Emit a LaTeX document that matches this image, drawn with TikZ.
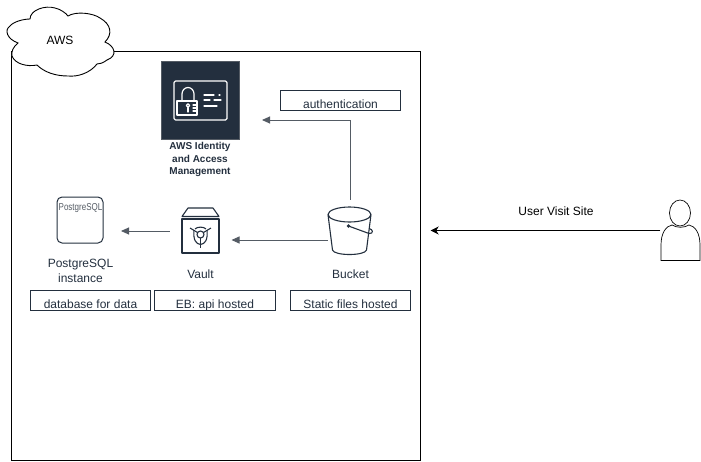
\documentclass[tikz,border=0pt]{standalone}
\usepackage{fontspec}
\usepackage{xcolor}
\setmainfont{Liberation Sans}
\usetikzlibrary{calc,arrows.meta}
\definecolor{ink}{HTML}{232F3E}
\definecolor{flow}{HTML}{545B64}
\tikzset{
  frame/.style={draw=black, line width=0.9pt},
  tag/.style={draw=ink, line width=0.8pt, minimum width=120.5pt, minimum height=20pt, inner sep=0pt, text=ink, font=\fontsize{12}{14}\selectfont, text depth=0pt, text height=15.5pt},
  lab/.style={text=ink, font=\fontsize{12}{15}\selectfont, align=center, inner sep=0pt},
  iamlab/.style={text=ink, font=\fontsize{10}{12.5}\selectfont\bfseries, align=center, inner sep=0pt},
  icon/.style={draw=ink, line width=1.1pt, line join=round},
  card/.style={draw=white, line width=1.2pt, line join=round, line cap=round},
  link/.style={draw=flow, line width=0.9pt, -{Triangle[length=8pt,width=7pt]}},
  visit/.style={draw=black, line width=0.9pt, -{Stealth[length=8pt,width=8pt]}},
}
\begin{document}
\begin{tikzpicture}[x=1pt,y=-1pt]
  \useasboundingbox (0,0) rectangle (701,461);
  \draw[frame] (11,51) rectangle (420.5,460.5);

  \draw[frame, fill=white] (18,43) .. controls (7,39) and (4,30) .. (10,26)
    .. controls (13,22) and (23,19) .. (30,19)
    .. controls (30,10) and (45,5) .. (55,8)
    .. controls (60,9) and (66,13) .. (68,16)
    .. controls (76,11) and (93,13) .. (100,18)
    .. controls (111,24) and (113,34) .. (105,42)
    .. controls (115,46) and (118,56) .. (107,60)
    .. controls (103,63) and (100,64) .. (97,64)
    .. controls (90,73) and (78,77) .. (68,76)
    .. controls (55,76) and (44,72) .. (37,65)
    .. controls (27,67) and (15,64) .. (12,56)
    .. controls (11,52) and (13,47) .. (18,43) -- cycle;
  \node[lab, text=black] (aws) at (60,40) {AWS};

  % identity and access management
  \node[fill=ink, draw=flow, line width=0.5pt, minimum size=78pt, inner sep=0pt, outer sep=23pt] (iam) at (200,100) {};
  \draw[card, rounded corners=1.5pt] (174,81) rectangle (227,120);
  \draw[card] (177,101) rectangle (197,115);
  \draw[card] (182,101) -- (182,94) arc[start angle=180, end angle=0, x radius=6, y radius=-6.5] -- (194,101);
  \draw[card] (188,105.5) circle (1.8);
  \draw[card] (188,107.5) -- (188,112);
  \draw[card] (193,105) -- (196,105) (193,108) -- (196,108) (193,111) -- (196,111);
  \draw[card] (204,95) -- (214,95) (219,95) -- (220,95);
  \draw[card] (204,100) -- (210,100) (214,100) -- (221,100);
  \draw[card] (204,106) -- (217,106);
  \node[iamlab] (iamtxt) at (200,159.5) {AWS Identity\\and Access\\Management};

  % database
  \node[draw=ink, line width=1pt, rounded corners=5pt, minimum size=46pt, inner sep=0pt, outer sep=18pt] (pg) at (80,220) {};
  \node[text=flow, inner sep=0pt, font=\fontsize{10}{11}\selectfont, xscale=0.8] (pgtxt) at (80.5,208) {PostgreSQL};
  \node[lab] (pgname) at (80.5,270.5) {PostgreSQL\\instance};
  \node[tag] (pgtag) at (90.5,300.5) {database for data};

  % vault
  \node[icon, minimum width=37pt, minimum height=34pt, inner sep=0pt, outer sep=12.5pt] (vault) at (200.5,236) {};
  \draw[icon] (182,216.5) -- (188,208) -- (213,208) -- (219,216.5) -- cycle;
  \draw[icon] (200.5,234.5) circle (3.5);
  \draw[icon] (200.5,238) -- (200.5,247.5);
  \draw[icon] (197.5,232.5) -- (190,228) (203.5,232.5) -- (211,228);
  \draw[icon] (194,230) .. controls (193,240) and (196,244) .. (200.5,244.5) .. controls (205,244) and (208,240) .. (207,230);
  \draw[icon] (195,229) .. controls (197,226.5) and (204,226.5) .. (206,229);
  \node[lab] (vaultname) at (200.5,274) {Vault};
  \node[tag] (vaulttag) at (215,300.5) {EB: api hosted};

  % bucket
  \node[minimum width=42pt, minimum height=60pt, inner sep=0pt] (bucket) at (350,230) {};
  \draw[icon] (349.5,214.5) ellipse (21.5 and 7.5);
  \draw[icon] (328,214.5) -- (332.5,250) .. controls (334,256) and (365,256) .. (366.5,250) -- (371,214.5);
  \draw[icon] (348.5,226) -- (369,233.5) .. controls (374,234) and (373,229) .. (369,228.5);
  \fill[ink] (348.5,226) circle (1.8);
  \node[lab] (bucketname) at (350.5,274) {Bucket};
  \node[tag] (buckettag) at (350.5,300.5) {Static files hosted};

  \node[tag] (authtag) at (340.5,100.5) {authentication};

  % user
  \node[minimum width=40pt, minimum height=60pt, inner sep=0pt] (user) at (680.5,230) {};
  \draw[frame, line width=0.7pt] (680,213) ellipse (10.5 and 13);
  \draw[frame, line width=0.7pt] (661,260.5) -- (661,245) .. controls (661,233) and (666,226) .. (672,225)
    .. controls (677,228) and (684,228) .. (689,225) .. controls (695,226) and (700,233) .. (700,245)
    -- (700,260.5) -- cycle;
  \node[lab, text=black] (visittxt) at (556,211) {User Visit Site};
  \node[inner sep=0pt] (edge) at (430,230.5) {};

  \draw[visit] (user.west |- edge) -- (edge);
  \draw[link] ([xshift=-1pt,yshift=-10pt]bucket.west) -- ([yshift=-4pt]vault.east);
  \draw[link] ([yshift=5pt]vault.west) -- ([yshift=5pt]vault.west -| pg.east);
  \draw[link] (bucket.north) |- ([yshift=-20pt]iam.east);
\end{tikzpicture}
\end{document}
